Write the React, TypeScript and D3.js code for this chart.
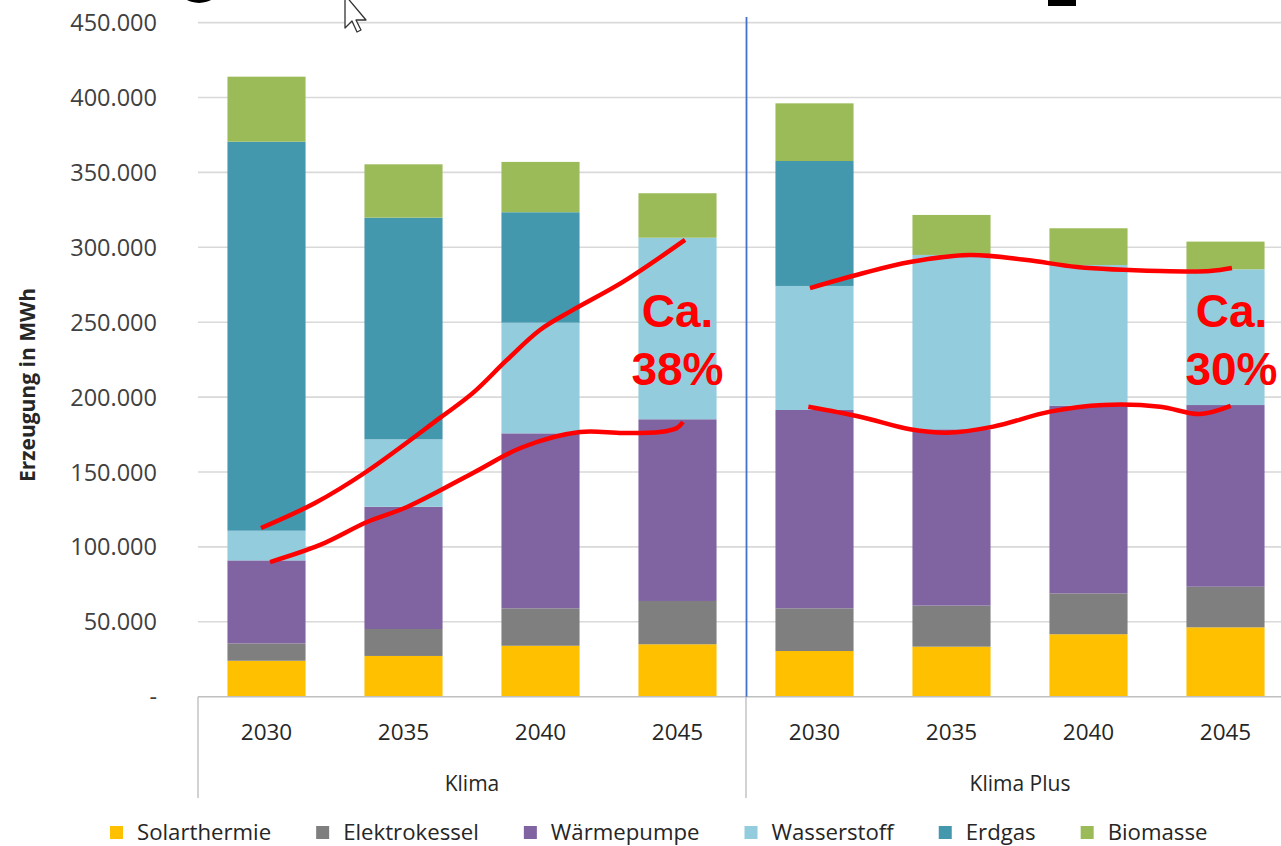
import React, { useEffect, useRef } from "react";
import * as d3 from "d3";

// Szenarien und Stützjahre
const scenarios = ["Klima", "Klima Plus"];
const years = ["2030", "2035", "2040", "2045"];

// Erzeugung je Technologie in MWh (Klima 2030..2045, Klima Plus 2030..2045)
const solarthermie = [24000, 27200, 34000, 35000, 30500, 33400, 41700, 46300];
const elektrokessel = [11600, 18000, 25000, 28900, 28500, 27400, 27300, 27100];
const waermepumpe = [55400, 81600, 116800, 121300, 132400, 117700, 125300, 121300];
const wasserstoff = [19800, 45000, 73900, 121200, 82800, 116400, 93900, 90600];
const erdgas = [259700, 148000, 73700, 0, 83400, 0, 0, 0];
const biomasse = [43400, 35600, 33600, 29700, 38500, 26700, 24500, 18500];

const seriesNames = ["Solarthermie", "Elektrokessel", "Wärmepumpe", "Wasserstoff", "Erdgas", "Biomasse"];
const seriesValues = [solarthermie, elektrokessel, waermepumpe, wasserstoff, erdgas, biomasse];
const seriesColors = ["#FFC000", "#7F7F7F", "#8064A2", "#93CDDD", "#4398AE", "#9BBB59"];

const yTicks = [0, 50000, 100000, 150000, 200000, 250000, 300000, 350000, 400000, 450000];

// Handgezeichnete Markierungen: [Kategorie-Position, MWh]
const klimaUpper: [number, number][] = [
  [0.46, 112600], [0.854, 129300], [1.226, 150000], [1.766, 186100], [2.007, 202800],
  [2.255, 224800], [2.496, 244800], [2.737, 258200], [3.102, 276900], [3.555, 304900],
];
const klimaLower: [number, number][] = [
  [0.526, 89900], [0.891, 101300], [1.234, 116600], [1.526, 126600], [2.007, 149300],
  [2.372, 166700], [2.788, 176700], [3.102, 176000], [3.372, 176700], [3.496, 179400], [3.54, 183400],
];
const plusUpper: [number, number][] = [
  [4.467, 272800], [4.832, 282200], [5.197, 290200], [5.635, 294900], [6.051, 291500],
  [6.416, 286900], [7.022, 284200], [7.387, 284200], [7.547, 286200],
];
const plusLower: [number, number][] = [
  [4.455, 193600], [4.832, 186900], [5.197, 178500], [5.465, 176200], [5.805, 180300],
  [6.219, 190300], [6.608, 194700], [7.022, 193600], [7.314, 188700], [7.538, 194100],
];
const shareLabels = [
  { scenario: "Klima", year: "2045", lines: ["Ca.", "38%"], shift: 0 },
  { scenario: "Klima Plus", year: "2045", lines: ["Ca.", "30%"], shift: 6 },
];

const FONT = "'Open Sans', 'DejaVu Sans', sans-serif";

export default function App() {
  const ref = useRef<SVGSVGElement>(null);

  useEffect(() => {
    const svg = d3.select(ref.current);
    svg.selectAll("*").remove();

    const left = 198;
    const right = 1294;
    const categories = scenarios.flatMap((s) => years.map((yr) => `${s}|${yr}`));

    const x = d3.scaleBand<string>().domain(categories).range([left, right]).paddingInner(0.43).paddingOuter(0.215);
    const slot = d3.scaleLinear().domain([0, categories.length]).range([left, right]);
    const y = d3.scaleLinear().domain([0, 450000]).range([696.7, 22.6]);

    const de = d3.formatLocale({ decimal: ",", thousands: ".", grouping: [3], currency: ["", " €"] });
    const fmt = de.format(",.0f");

    // Gitternetz
    const grid = svg.append("g");
    grid.selectAll("line")
      .data(yTicks.filter((t) => t > 0))
      .join("line")
      .attr("x1", left).attr("x2", right)
      .attr("y1", (d) => y(d)).attr("y2", (d) => y(d))
      .attr("stroke", "#D9D9D9").attr("stroke-width", 1.6);

    // Y-Achsenbeschriftung
    svg.append("g").selectAll("text")
      .data(yTicks)
      .join("text")
      .attr("x", 157)
      .attr("y", (d) => y(d) + 8.5)
      .attr("text-anchor", "end")
      .attr("font-family", FONT).attr("font-size", 23.5).attr("fill", "#404040")
      .text((d) => (d === 0 ? "-" : fmt(d)));

    svg.append("text")
      .attr("transform", `translate(35,385) rotate(-90)`)
      .attr("text-anchor", "middle")
      .attr("font-family", FONT).attr("font-size", 21).attr("font-weight", 700).attr("fill", "#262626")
      .text("Erzeugung in MWh");

    // Gestapelte Säulen
    const rows = categories.map((key, i) => {
      const r: Record<string, number | string> = { key };
      seriesNames.forEach((n, j) => (r[n] = seriesValues[j][i]));
      return r;
    });
    const stacked = d3.stack<Record<string, number | string>>().keys(seriesNames)(rows as any);
    svg.append("g").selectAll("g")
      .data(stacked)
      .join("g")
      .attr("fill", (_, i) => seriesColors[i])
      .selectAll("rect")
      .data((s) => s.filter((d) => d[1] - d[0] > 0))
      .join("rect")
      .attr("x", (d) => x(d.data.key as string)!)
      .attr("width", x.bandwidth())
      .attr("y", (d) => y(d[1]))
      .attr("height", (d) => y(d[0]) - y(d[1]));

    // Achse und Gruppentrenner
    svg.append("line")
      .attr("x1", left).attr("x2", right).attr("y1", y(0)).attr("y2", y(0))
      .attr("stroke", "#BFBFBF").attr("stroke-width", 1.6);
    const boundaries = [0, years.length, categories.length].map((i) => slot(i));
    svg.append("g").selectAll("line")
      .data(boundaries)
      .join("line")
      .attr("x1", (d) => d).attr("x2", (d) => d)
      .attr("y1", y(0)).attr("y2", 798)
      .attr("stroke", "#BFBFBF").attr("stroke-width", 1.4);
    svg.append("line")
      .attr("x1", slot(years.length) + 0.5).attr("x2", slot(years.length) + 0.5)
      .attr("y1", 17).attr("y2", y(0))
      .attr("stroke", "#4472C4").attr("stroke-width", 1.8);

    // Jahre und Szenarien
    svg.append("g").selectAll("text")
      .data(categories)
      .join("text")
      .attr("x", (d) => x(d)! + x.bandwidth() / 2)
      .attr("y", 740)
      .attr("text-anchor", "middle")
      .attr("font-family", FONT).attr("font-size", 22.5).attr("fill", "#262626")
      .text((d) => d.split("|")[1]);
    svg.append("g").selectAll("text")
      .data(scenarios)
      .join("text")
      .attr("x", (_, i) => slot(i * years.length + years.length / 2))
      .attr("y", 791)
      .attr("text-anchor", "middle")
      .attr("font-family", FONT).attr("font-size", 21).attr("fill", "#262626")
      .text((d) => d);

    // Legende
    const legend = svg.append("g");
    let lx = 110;
    seriesNames.forEach((name, i) => {
      legend.append("rect")
        .attr("x", lx).attr("y", 826).attr("width", 13).attr("height", 13)
        .attr("fill", seriesColors[i]);
      const t = legend.append("text")
        .attr("x", lx + 27).attr("y", 840)
        .attr("font-family", FONT).attr("font-size", 22.2).attr("fill", "#262626")
        .text(name);
      const w = (t.node() as SVGTextElement).getComputedTextLength();
      lx += 27 + w + 45;
    });

    // Rote Markierungen
    const line = d3.line<[number, number]>()
      .x((d) => slot(d[0]))
      .y((d) => y(d[1]))
      .curve(d3.curveCatmullRom.alpha(0.5));
    svg.append("g").selectAll("path")
      .data([klimaUpper, klimaLower, plusUpper, plusLower])
      .join("path")
      .attr("d", (d) => line(d))
      .attr("fill", "none")
      .attr("stroke", "#FF0000")
      .attr("stroke-width", 4.5)
      .attr("stroke-linecap", "butt");

    const labels = svg.append("g");
    shareLabels.forEach((l) => {
      const cx = x(`${l.scenario}|${l.year}`)! + x.bandwidth() / 2 + l.shift;
      l.lines.forEach((txt, k) => {
        labels.append("text")
          .attr("x", cx)
          .attr("y", 327 + k * 58)
          .attr("text-anchor", "middle")
          .attr("font-family", "'Liberation Sans', Arial, sans-serif")
          .attr("font-weight", 700)
          .attr("font-size", 46)
          .attr("fill", "#FF0000")
          .text(txt);
      });
    });

    // Reste der darüberliegenden Folie
    svg.append("ellipse")
      .attr("cx", 199).attr("cy", -12).attr("rx", 20).attr("ry", 15)
      .attr("fill", "#000");
    svg.append("rect")
      .attr("x", 1048).attr("y", -4).attr("width", 28).attr("height", 10)
      .attr("fill", "#000");
    svg.append("path")
      .attr("transform", "translate(345,-5)")
      .attr("d", "M0,0 L0,33 L7,26 L12,37 L16,35 L11,25 L21,25 Z")
      .attr("fill", "#FFFFFF")
      .attr("stroke", "#333333")
      .attr("stroke-width", 1.3)
      .attr("stroke-linejoin", "round");
  }, []);

  return (
    <svg
      ref={ref}
      width={1281}
      height={846}
      style={{ position: "absolute", left: 0, top: 0, background: "#FFFFFF" }}
    />
  );
}
